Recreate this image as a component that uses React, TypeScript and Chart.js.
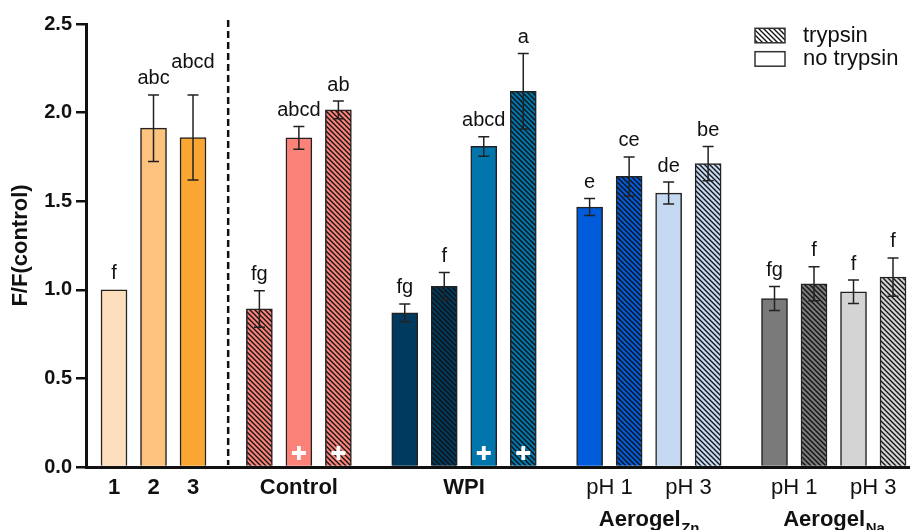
import React, { useEffect, useRef } from "react";
import { Chart, registerables } from "chart.js";

Chart.register(...registerables);

// ---------- data ----------
const groupNames = ["", "Control", "WPI", "Aerogel", "Aerogel"];
const groupSubscripts = ["", "", "", "Zn", "Na"];
const groupSizes = [3, 3, 4, 4, 4];
const tickLabels = [["1", "2", "3"], ["Control"], ["WPI"], ["pH 1", "pH 3"], ["pH 1", "pH 3"]];
const tickBold = [true, true, true, false, false];

const values = [1.0, 1.912, 1.859, 0.892, 1.857, 2.015, 0.87, 1.02, 1.809, 2.12, 1.467, 1.64, 1.546, 1.712, 0.951, 1.034, 0.989, 1.072];
const errors = [0, 0.188, 0.24, 0.103, 0.064, 0.05, 0.05, 0.078, 0.055, 0.213, 0.048, 0.11, 0.062, 0.096, 0.068, 0.096, 0.066, 0.108];
const letters = ["f", "abc", "abcd", "fg", "abcd", "ab", "fg", "f", "abcd", "a", "e", "ce", "de", "be", "fg", "f", "f", "f"];
const trypsin = [false, false, false, true, false, true, false, true, false, true, false, true, false, true, false, true, false, true];
const plusMarks = [false, false, false, false, true, true, false, false, true, true, false, false, false, false, false, false, false, false];
const barColors = [
  "#FDDEBD", "#FDC27E", "#FBA632",
  "#FA8278", "#FA8278", "#FA8278",
  "#003A5E", "#003A5E", "#0076AC", "#0076AC",
  "#005CDB", "#005CDB", "#C6D9F3", "#C6D9F3",
  "#7A7A7A", "#7A7A7A", "#D4D4D4", "#D4D4D4",
];
const legendLabels = ["trypsin", "no trypsin"];
const yTickValues = [0, 0.5, 1.0, 1.5, 2.0, 2.5];

// label lifted to avoid collision with neighbour
const labelLift = [0, 0, 17, 0, 0, 0, 0, 0, 0, 0, 0, 0, 0, 0, 0, 0, 0, 0];

const GROUP_GAP = 1.68;
const FONT = '"Liberation Sans", Arial, sans-serif';

// positions derived from group structure
const xPos: number[] = [];
const groupStart: number[] = [];
{
  let cur = 0;
  groupSizes.forEach((n, g) => {
    if (g > 0) cur += GROUP_GAP - 1;
    groupStart.push(xPos.length);
    for (let i = 0; i < n; i++) {
      xPos.push(cur);
      cur += 1;
    }
  });
}

function makeHatch(color: string): CanvasPattern | string {
  const s = 5;
  const c = document.createElement("canvas");
  c.width = s;
  c.height = s;
  const g = c.getContext("2d");
  if (!g) return color;
  g.fillStyle = color;
  g.fillRect(0, 0, s, s);
  g.strokeStyle = "#111";
  g.lineWidth = 1.35;
  g.beginPath();
  g.moveTo(-1, -1);
  g.lineTo(s + 1, s + 1);
  g.moveTo(-1, s - 1);
  g.lineTo(1, s + 1);
  g.moveTo(s - 1, -1);
  g.lineTo(s + 1, 1);
  g.stroke();
  return g.createPattern(c, "repeat") || color;
}

const overlayPlugin = {
  id: "overlay",
  afterDatasetsDraw(chart: any) {
    const ctx: CanvasRenderingContext2D = chart.ctx;
    const xs = chart.scales.x;
    const ys = chart.scales.y;
    const area = chart.chartArea;
    ctx.save();

    // divider
    const divX = xs.getPixelForValue((xPos[groupSizes[0] - 1] + xPos[groupSizes[0]]) / 2 + 0.05);
    ctx.strokeStyle = "#111";
    ctx.lineWidth = 2.5;
    ctx.setLineDash([7, 4]);
    ctx.beginPath();
    ctx.moveTo(divX, area.top - 4);
    ctx.lineTo(divX, area.bottom - 2);
    ctx.stroke();
    ctx.setLineDash([]);

    values.forEach((v, i) => {
      const x = xs.getPixelForValue(xPos[i]);
      const e = errors[i];
      const yt = ys.getPixelForValue(v + e);
      if (e > 0) {
        const yb = ys.getPixelForValue(v - e);
        ctx.strokeStyle = "#222";
        ctx.lineWidth = 1.5;
        ctx.beginPath();
        ctx.moveTo(x, yt);
        ctx.lineTo(x, yb);
        ctx.moveTo(x - 5.5, yt);
        ctx.lineTo(x + 5.5, yt);
        ctx.moveTo(x - 5.5, yb);
        ctx.lineTo(x + 5.5, yb);
        ctx.stroke();
      }
      ctx.fillStyle = "#111";
      ctx.font = `20px ${FONT}`;
      ctx.textAlign = "center";
      ctx.textBaseline = "alphabetic";
      ctx.fillText(letters[i], x, yt - 10.5 - labelLift[i]);

      if (plusMarks[i]) {
        const cy = area.bottom - 14;
        ctx.strokeStyle = "#fff";
        ctx.lineWidth = 3.8;
        ctx.beginPath();
        ctx.moveTo(x - 7, cy);
        ctx.lineTo(x + 7, cy);
        ctx.moveTo(x, cy - 7);
        ctx.lineTo(x, cy + 7);
        ctx.stroke();
      }
    });

    // x labels
    groupSizes.forEach((n, g) => {
      const s = groupStart[g];
      const labs = tickLabels[g];
      const per = n / labs.length;
      labs.forEach((lab, k) => {
        const a = xPos[s + k * per];
        const b = xPos[s + (k + 1) * per - 1];
        const cx = xs.getPixelForValue((a + b) / 2);
        ctx.fillStyle = "#111";
        ctx.font = tickBold[g] ? `bold 22px ${FONT}` : `22px ${FONT}`;
        ctx.textAlign = "center";
        ctx.textBaseline = "middle";
        ctx.fillText(lab, cx, area.bottom + 21);
      });
      if (groupNames[g] && groupSubscripts[g]) {
        const cx = xs.getPixelForValue((xPos[s] + xPos[s + n - 1]) / 2);
        ctx.font = `bold 22px ${FONT}`;
        const w1 = ctx.measureText(groupNames[g]).width;
        ctx.font = `bold 15px ${FONT}`;
        const w2 = ctx.measureText(groupSubscripts[g]).width;
        const left = cx - (w1 + w2) / 2;
        const base = area.bottom + 58.5;
        ctx.textAlign = "left";
        ctx.textBaseline = "alphabetic";
        ctx.font = `bold 22px ${FONT}`;
        ctx.fillText(groupNames[g], left, base);
        ctx.font = `bold 15px ${FONT}`;
        ctx.fillText(groupSubscripts[g], left + w1 + 0.5, base + 7);
      }
    });

    // legend
    const lx = area.right - 155;
    const boxes = [28.3, 51.7];
    boxes.forEach((by, k) => {
      ctx.fillStyle = k === 0 ? (makeHatch("#ffffff") as any) : "#ffffff";
      ctx.fillRect(lx, by, 30, 14.5);
      ctx.strokeStyle = "#333";
      ctx.lineWidth = 1.5;
      ctx.strokeRect(lx, by, 30, 14.5);
      ctx.fillStyle = "#111";
      ctx.font = `22px ${FONT}`;
      ctx.textAlign = "left";
      ctx.textBaseline = "middle";
      ctx.fillText(legendLabels[k], lx + 48, by + 7.5);
    });

    ctx.restore();
  },
};

export default function App() {
  const ref = useRef<HTMLCanvasElement | null>(null);
  useEffect(() => {
    if (!ref.current) return;
    const bg = values.map((_, i) => (trypsin[i] ? makeHatch(barColors[i]) : barColors[i]));
    const chart = new Chart(ref.current, {
      type: "bar",
      data: {
        datasets: [
          {
            data: values.map((v, i) => ({ x: xPos[i], y: v })) as any,
            backgroundColor: bg as any,
            borderColor: "#222",
            borderWidth: 1.5,
            barThickness: 26,
          },
        ],
      },
      options: {
        animation: false,
        responsive: false,
        devicePixelRatio: 1,
        layout: { padding: { top: 24, right: 0, left: 0, bottom: 0 } },
        plugins: { legend: { display: false }, tooltip: { enabled: false } },
        scales: {
          x: {
            type: "linear",
            min: -0.709,
            max: 20.15,
            offset: false,
            grid: { display: false, offset: false },
            ticks: { display: false },
            border: { display: true, width: 3, color: "#111" },
            afterFit: (s: any) => {
              s.height = 63;
            },
          },
          y: {
            min: 0,
            max: 2.5,
            afterBuildTicks: (s: any) => {
              s.ticks = yTickValues.map((v) => ({ value: v }));
            },
            ticks: {
              callback: (v: any) => Number(v).toFixed(1),
              font: { family: FONT, size: 20, weight: "bold" },
              color: "#111",
              padding: 4,
            },
            grid: {
              drawOnChartArea: false,
              drawTicks: true,
              tickLength: 10,
              tickWidth: 2.5,
              tickColor: "#111",
              lineWidth: 2.5,
              color: "#111",
            },
            border: { display: true, width: 3, color: "#111" },
            title: {
              display: true,
              text: "F/F(control)",
              font: { family: FONT, size: 22, weight: "bold" },
              color: "#111",
              padding: { top: 8, bottom: 0 },
            },
            afterFit: (s: any) => {
              s.width = 86;
            },
          },
        },
      },
      plugins: [overlayPlugin],
    });
    return () => chart.destroy();
  }, []);
  return (
    <div style={{ position: "absolute", left: 0, top: 0, width: 910, height: 530, background: "#fff" }}>
      <canvas ref={ref} width={910} height={530} style={{ display: "block" }} />
    </div>
  );
}
